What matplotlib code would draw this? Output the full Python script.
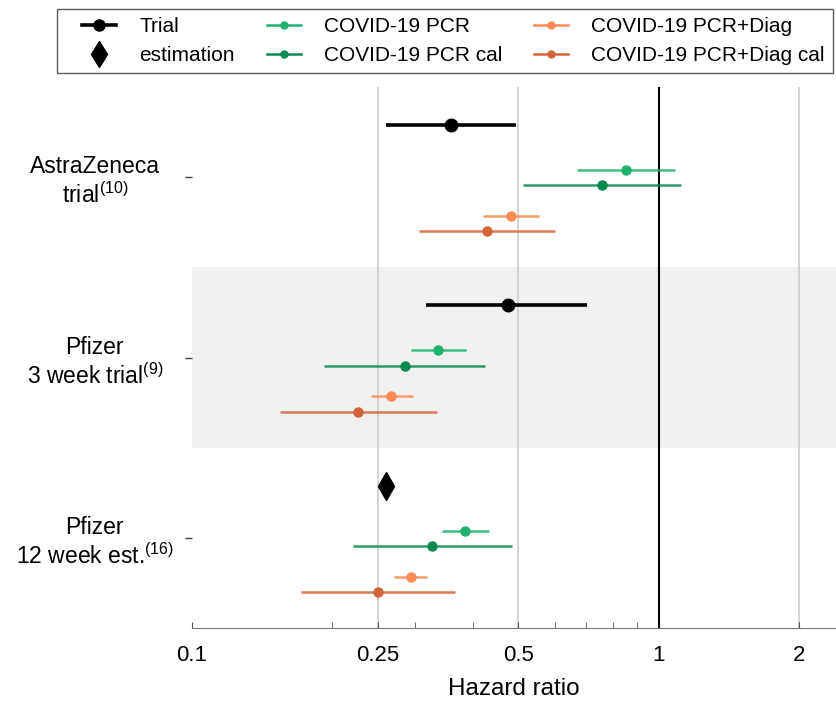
import matplotlib.pyplot as plt
from matplotlib.lines import Line2D
from matplotlib.legend_handler import HandlerLine2D
from matplotlib.ticker import FixedLocator, NullFormatter

plt.rcParams['font.family'] = ['Liberation Sans', 'DejaVu Sans']
plt.rcParams['mathtext.default'] = 'regular'

# Rows (top to bottom)
studies = ['AstraZeneca\ntrial$^{(10)}$',
           'Pfizer\n3 week trial$^{(9)}$',
           'Pfizer\n12 week est.$^{(16)}$']

# Reported trial values (hazard ratio, low, high); last row is a point estimate
trial_hr = [0.359, 0.476]
trial_lo = [0.261, 0.318]
trial_hi = [0.495, 0.704]
estimation_hr = 0.260

series_names = ['COVID-19 PCR', 'COVID-19 PCR cal',
                'COVID-19 PCR+Diag', 'COVID-19 PCR+Diag cal']
series_colors = ['#1fb26f', '#0a8a4e', '#fb8b55', '#d3643a']
series_hr = [[0.850, 0.337, 0.384],
             [0.757, 0.286, 0.327],
             [0.482, 0.267, 0.294],
             [0.428, 0.227, 0.250]]
series_lo = [[0.668, 0.295, 0.343],
             [0.511, 0.192, 0.221],
             [0.420, 0.242, 0.271],
             [0.306, 0.154, 0.171]]
series_hi = [[1.084, 0.386, 0.432],
             [1.119, 0.425, 0.485],
             [0.555, 0.297, 0.319],
             [0.601, 0.335, 0.366]]

trial_offset = 0.21
series_offsets = [0.46, 0.545, 0.715, 0.80]


class ShortHandler(HandlerLine2D):
    """Legend line drawn on the right part of the handle box only."""

    def create_artists(self, legend, orig_handle, xdescent, ydescent,
                       width, height, fontsize, trans):
        shift = 0.8 * fontsize
        return super().create_artists(legend, orig_handle, xdescent - shift,
                                      ydescent, width - shift, height,
                                      fontsize, trans)


fig = plt.figure(figsize=(8.36, 7.02), dpi=100)
ax = fig.add_axes([0.2297, 0.1054, 0.7703, 0.7706])

ax.set_xscale('log')
ax.set_xlim(0.1, 2.4)
ax.set_ylim(3, 0)

# shaded middle row
ax.axhspan(1, 2, color='#f1f1f1', zorder=0, lw=0)
for g in [0.25, 0.5, 2]:
    ax.axvline(g, color='#cccccc', lw=1.2, zorder=1)
ax.axvline(1, color='black', lw=1.5, zorder=2)

for i in range(2):
    y = i + trial_offset
    ax.plot([trial_lo[i], trial_hi[i]], [y, y], color='black', lw=2.6,
            solid_capstyle='butt', zorder=3)
    ax.plot(trial_hr[i], y, 'o', color='black', ms=9, zorder=4)
ax.plot(estimation_hr, 2 + trial_offset, 'd', color='black', ms=14, zorder=4)

for k in range(4):
    for i in range(3):
        y = i + series_offsets[k]
        ax.plot([series_lo[k][i], series_hi[k][i]], [y, y],
                color=series_colors[k], lw=1.8, alpha=0.85,
                solid_capstyle='butt', zorder=3)
        ax.plot(series_hr[k][i], y, 'o', color=series_colors[k], ms=6.5,
                zorder=4)

ax.set_xticks([0.1, 0.25, 0.5, 1, 2])
ax.set_xticklabels(['0.1', '0.25', '0.5', '1', '2'])
ax.xaxis.set_minor_locator(FixedLocator([0.2, 0.3, 0.4, 0.6, 0.7, 0.8, 0.9]))
ax.xaxis.set_minor_formatter(NullFormatter())
ax.tick_params(axis='x', which='both', direction='in', length=4,
               color='#555555', labelsize=16, pad=12)
ax.set_xlabel('Hazard ratio', fontsize=17.5, labelpad=9)

ax.set_yticks([0.5, 1.5, 2.5])
ax.set_yticklabels(studies, fontsize=16.5)
for lab in ax.get_yticklabels():
    lab.set_ha('center')
    lab.set_multialignment('center')
ax.tick_params(axis='y', length=5, width=1, color='#444444', pad=65)

for side in ['left', 'right', 'top']:
    ax.spines[side].set_visible(False)
ax.spines['bottom'].set_color('#777777')

handles = [
    Line2D([], [], color='black', lw=2.6, marker='o', ms=8),
    Line2D([], [], color='black', lw=0, marker='d', ms=13),
]
for k in range(4):
    handles.append(Line2D([], [], color=series_colors[k], lw=1.8,
                          marker='o', ms=5))
labels = ['Trial', 'estimation'] + series_names
leg = fig.legend(handles, labels, ncol=3, loc='upper right',
                 bbox_to_anchor=(0.9964, 0.987), fontsize=15,
                 frameon=True, fancybox=False, edgecolor='#333333',
                 handlelength=2.45, columnspacing=0.72, handletextpad=1.1,
                 borderpad=0.4, labelspacing=0.45, borderaxespad=0,
                 handler_map={Line2D: ShortHandler()})
leg.get_frame().set_linewidth(1.0)

fig.savefig('out.png', dpi=100)
